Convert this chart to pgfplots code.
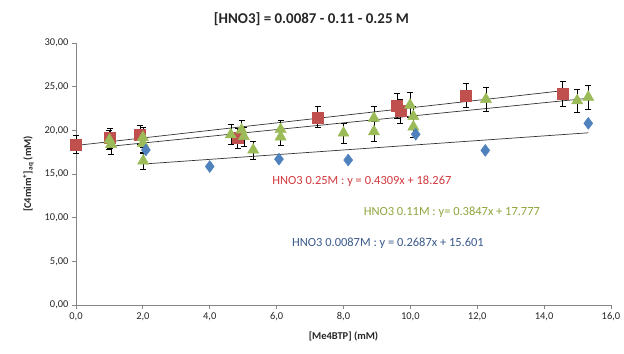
\documentclass[border=0pt]{standalone}
\usepackage{pgfplots}
\pgfplotsset{compat=1.18}
\usepackage{fontspec}
\setmainfont{Carlito}
\definecolor{cred}{HTML}{C0504D}
\definecolor{cgreen}{HTML}{9BBB59}
\definecolor{cblue}{HTML}{4F81BD}
\definecolor{tred}{HTML}{D0393E}
\definecolor{tgreen}{HTML}{8DA63E}
\definecolor{tblue}{HTML}{3A5A8C}
\definecolor{axgrey}{HTML}{868686}
\begin{document}
\begin{tikzpicture}
\begin{axis}[
  at={(0,0)}, anchor=south west,
  scale only axis, width=535bp, height=262bp,
  xmin=0, xmax=16, ymin=0, ymax=30,
  xtick={0,2,...,16}, ytick={0,5,...,30},
  axis lines=left, axis line style={-, axgrey, line width=0.8pt},
  tick style={axgrey, line width=0.8pt}, tick align=outside, major tick length=4bp,
  x tick label style={/pgf/number format/.cd, fixed, fixed zerofill, precision=1, use comma, assume math mode=true},
  y tick label style={/pgf/number format/.cd, fixed, fixed zerofill, precision=2, use comma, assume math mode=true},
  ticklabel style={font=\fontsize{10.5}{12}\selectfont, text=black!85},
  xlabel={\textbf{[Me4BTP] (mM)}},
  ylabel={\textbf{[C4mim\textsuperscript{+}]\textsubscript{aq} (mM)}},
  label style={font=\fontsize{10.5}{12}\selectfont, text=black!85},
  xlabel style={yshift=-4bp},
  ylabel style={yshift=4bp},
  title={\textbf{[HNO3] = 0.0087 - 0.11 - 0.25 M}},
  title style={font=\fontsize{15}{17}\selectfont, text=black!85, at={(0.44,1)}, yshift=8bp},
  clip=false,
  error bars/y dir=both, error bars/y explicit,
  error bars/error bar style={black, line width=0.6pt},
  error bars/error mark options={rotate=90, black, mark size=3bp, line width=0.6pt},
]
% trend lines
\addplot[black!80, line width=0.7pt, forget plot] coordinates {(0,18.267) (14.55,24.537)};
\addplot[black!80, line width=0.7pt, forget plot] coordinates {(1.0,18.162) (15.32,23.671)};
\addplot[black!80, line width=0.7pt, forget plot] coordinates {(2.09,16.163) (15.32,19.718)};
% 0.25 M
\addplot[only marks, mark=square*, mark size=5.5bp, color=cred, mark options={fill=cred, draw=cred}]
  coordinates {
  (0,18.4) +- (0,1.0)
  (1.02,19.1) +- (0,1.1)
  (1.91,19.5) +- (0,1.1)
  (4.83,19.1) +- (0,1.1)
  (7.23,21.5) +- (0,1.2)
  (9.6,22.8) +- (0,1.4)
  (9.7,22.2) +- (0,1.4)
  (11.66,24.0) +- (0,1.4)
  (14.55,24.15) +- (0,1.45)
  };
% 0.11 M
\addplot[only marks, mark=triangle*, mark size=6.5bp, color=cgreen, mark options={fill=cgreen, draw=cgreen}]
  coordinates {
  (1.0,18.9) +- (0,1.1)
  (1.05,18.4) +- (0,1.1)
  (2.0,19.2) +- (0,1.1)
  (2.0,18.5) +- (0,1.1)
  (2.01,16.5) +- (0,0.95)
  (4.63,19.5) +- (0,1.15)
  (4.95,20.05) +- (0,1.15)
  (5.02,19.3) +- (0,1.1)
  (5.3,17.75) +- (0,1.05)
  (6.12,20.1) +- (0,1.0)
  (6.12,19.25) +- (0,1.0)
  (8.0,19.7) +- (0,1.15)
  (8.91,21.4) +- (0,1.3)
  (8.91,19.85) +- (0,1.15)
  (9.99,22.9) +- (0,1.45)
  (10.09,21.6) +- (0,1.2)
  (10.09,20.4) +- (0,1.2)
  (12.26,23.55) +- (0,1.4)
  (14.99,23.4) +- (0,1.35)
  (15.32,23.8) +- (0,1.4)
  };
% 0.0087 M
\addplot[only marks, mark=diamond*, mark size=6bp, color=cblue, mark options={fill=cblue, draw=cblue}, error bars/y dir=none]
  coordinates {
  (2.09,17.75)
  (4.0,15.85)
  (6.07,16.7)
  (8.14,16.6)
  (10.16,19.55)
  (12.24,17.7)
  (15.32,20.8)
  };
\node[font=\fontsize{12.5}{14}\selectfont, text=tred] at (axis cs:8.55,14.2) {HNO3 0.25M : y = 0.4309x + 18.267};
\node[font=\fontsize{12.5}{14}\selectfont, text=tgreen] at (axis cs:11.24,10.65) {HNO3 0.11M : y= 0.3847x + 17.777};
\node[font=\fontsize{12.5}{14}\selectfont, text=tblue] at (axis cs:9.33,7.1) {HNO3 0.0087M : y = 0.2687x + 15.601};
\end{axis}
\path[use as bounding box] (-76bp,-49bp) rectangle (548bp,305bp);
\end{tikzpicture}
\end{document}
